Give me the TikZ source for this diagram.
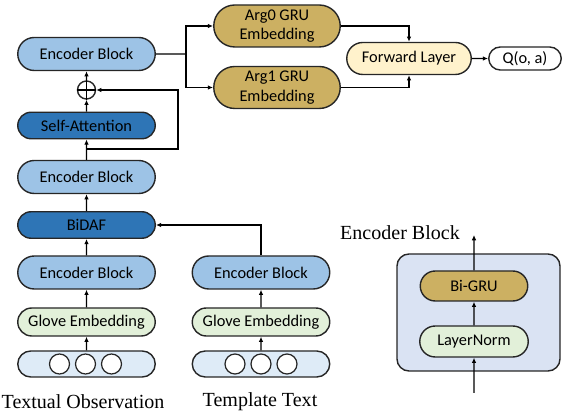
\documentclass[tikz,border=0pt]{standalone}
\usepackage{fontspec}
\setmainfont{Carlito}
\newfontfamily\capfont{Liberation Serif}
\usetikzlibrary{arrows.meta,positioning,shapes.misc}
\definecolor{encblue}{HTML}{9DC3E6}
\definecolor{attblue}{HTML}{2E75B6}
\definecolor{gruGold}{HTML}{CCB062}
\definecolor{gloveGreen}{HTML}{E2F0D9}
\definecolor{fwdYellow}{HTML}{FFF2CC}
\definecolor{inBlue}{HTML}{DEEBF7}
\definecolor{boxBlue}{HTML}{DAE3F3}

\begin{document}
\begin{tikzpicture}[
    >={Latex[length=3pt,width=2.6pt]}, line width=0.7pt,
    blk/.style={rounded rectangle, draw=black!85, line width=0.8pt, inner sep=1pt,
      minimum width=2.82cm, minimum height=0.66cm, font=\fontsize{9.3}{11}\selectfont},
    enc/.style={blk, fill=encblue},
    att/.style={blk, fill=attblue, minimum height=0.53cm},
    emb/.style={blk, fill=gloveGreen, minimum height=0.56cm},
    inbox/.style={blk, fill=inBlue, minimum height=0.52cm},
    tok/.style={circle, draw=black!85, line width=0.7pt, fill=white, minimum size=0.40cm, inner sep=0pt},
    arg/.style={blk, fill=gruGold, minimum width=2.6cm, minimum height=0.84cm, align=center},
    captxt/.style={font=\capfont\fontsize{11.4}{13}\selectfont, inner sep=1pt}
  ]
  % left column: observation branch
  \node[inbox] (inL) at (1.73,-7.28) {};
  \foreach \i/\x in {1/1.19,2/1.71,3/2.23}
    \node[tok] (tl\i) at (\x,-7.28) {};
  \node[emb] (gloveL) at (1.73,-6.44) {Glove Embedding};
  \node[enc] (encL) at (1.73,-5.45) {Encoder Block};
  \node[att] (bidaf) at (1.73,-4.50) {BiDAF};
  \node[enc] (encM) at (1.73,-3.54) {Encoder Block};
  \node[att] (satt) at (1.73,-2.51) {Self-Attention};
  \node[circle, draw=black!85, line width=0.8pt, fill=white, minimum size=0.36cm, inner sep=0pt] (plus) at (1.73,-1.80) {};
  \draw[line width=0.8pt] (plus.north) -- (plus.south) (plus.west) -- (plus.east);
  \node[enc] (encT) at (1.73,-1.08) {Encoder Block};
  \node[captxt] (capL) at (1.66,-8.04) {Textual Observation};

  % right column: template branch
  \node[inbox] (inR) at (5.22,-7.28) {};
  \foreach \i/\x in {1/4.70,2/5.22,3/5.74}
    \node[tok] (tr\i) at (\x,-7.28) {};
  \node[emb] (gloveR) at (5.22,-6.44) {Glove Embedding};
  \node[enc] (encR) at (5.22,-5.45) {Encoder Block};
  \node[captxt] (capR) at (5.20,-8.04) {Template Text};

  % top: argument heads
  \node[arg] (arg0) at (5.54,-0.52) {Arg0 GRU\\Embedding};
  \node[arg] (arg1) at (5.54,-1.75) {Arg1 GRU\\Embedding};
  \node[blk, fill=fwdYellow, minimum width=2.56cm, minimum height=0.64cm] (fwd) at (8.18,-1.17) {Forward Layer};
  \node[blk, fill=white, minimum width=1.52cm, minimum height=0.46cm] (qval) at (10.50,-1.17) {Q(o, a)};

  \draw[->] (inL) -- (gloveL);
  \draw[->] (gloveL) -- (encL);
  \draw[->] (encL) -- (bidaf);
  \draw[->] (bidaf) -- (encM);
  \draw[->] (encM) -- (satt);
  \draw[->] (satt) -- (plus);
  \draw[->] (plus) -- (encT);
  % residual around self-attention
  \coordinate (fb) at (1.73,-2.98);
  \draw[->] (fb) -- ++(1.83,0) |- (plus);
  \draw[->] (inR) -- (gloveR);
  \draw[->] (gloveR) -- (encR);
  \draw[->] (encR) |- (bidaf);
  % encoder output to both heads
  \coordinate (br) at (3.72,-1.08);
  \draw (encT) -- (br);
  \draw[->] (br) |- (arg0);
  \draw[->] (br) |- (arg1);
  \draw[->] (arg0) -| (fwd);
  \draw[->] (arg1) -| (fwd);
  \draw[->] (fwd) -- (qval);

  % inside of an encoder block
  \node[draw=black!85, line width=0.8pt, rounded corners=0.24cm, fill=boxBlue,
    minimum width=3.26cm, minimum height=2.34cm] (ebbox) at (9.57,-6.25) {};
  \node[blk, fill=gruGold, minimum width=2.22cm, minimum height=0.60cm] (bigru) at (9.48,-5.72) {Bi-GRU};
  \node[blk, fill=gloveGreen, minimum width=2.24cm, minimum height=0.62cm] (lnorm) at (9.48,-6.83) {LayerNorm};
  \node[captxt] (ebcap) at (8.00,-4.66) {Encoder Block};
  \coordinate (ebin) at (9.48,-7.86);
  \coordinate (ebout) at (9.48,-4.70);
  \draw[->] (ebin) -- (lnorm);
  \draw[->] (lnorm) -- (bigru);
  \draw[->] (bigru) -- (ebout);

  \pgfresetboundingbox
  \path[use as bounding box] (0,0) rectangle (11.28,-8.24);
\end{tikzpicture}
\end{document}
